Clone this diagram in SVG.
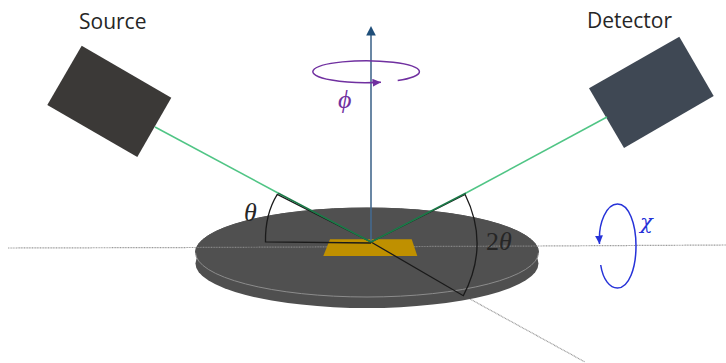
<svg xmlns="http://www.w3.org/2000/svg" width="726" height="363" viewBox="0 0 726 363">
<defs>
<style>
.label{font-family:"Open Sans","Noto Sans",sans-serif;font-size:21px;fill:#262626}
.math{font-family:"Liberation Serif","DejaVu Serif",serif;font-style:italic;font-size:26px}
.dot{fill:none;stroke:#9a9a9a;stroke-width:1.200;stroke-dasharray:1 0.6}
.beam{fill:none;stroke:#50c585;stroke-width:1.500}
.beamd{fill:none;stroke:#1b7a48;stroke-width:1.600}
.angle{fill:none;stroke:#1a1a1a;stroke-width:1.300}
</style>
<marker id="phiHead" markerUnits="userSpaceOnUse" markerWidth="10" markerHeight="10" refX="8.500" refY="4" orient="auto"><path d="M0,0L8.500,4L0,8Z" fill="#7030a0"/></marker>
<marker id="chiHead" markerUnits="userSpaceOnUse" markerWidth="10" markerHeight="10" refX="8.500" refY="4" orient="auto"><path d="M0,0L8.500,4L0,8Z" fill="#2632d8"/></marker>
</defs>
<rect width="726" height="363" fill="#fff"/>
<g id="axis-back">
<path class="dot" d="M8,248L195,247.500"/>
<path class="dot" d="M538,246L726,245"/>
<path class="dot" d="M470,299L585,362"/>
</g>
<g id="stage">
<ellipse cx="367" cy="263.500" rx="171.500" ry="44.500" fill="#4f4f4f"/>
<ellipse cx="367" cy="252.500" rx="171.500" ry="44.500" fill="#505050" stroke="#8c8c8c" stroke-width="1"/>
<path d="M195.500,252.500A171.500,44.500 0 0 1 538.500,252.500" fill="#505050" stroke="#505050" stroke-width="1"/>
<path class="dot" d="M195,247.500L538,246" stroke-opacity=".7"/>
</g>
<g id="sample"><polygon points="330,239.300 411.700,239.300 417.300,256 323.300,256" fill="#bf9000"/></g>
<g id="source"><polygon points="81.700,45.700 171.300,97.700 137.300,157 47.300,105" fill="#3b3937"/><text class="label" x="79" y="29">Source</text></g>
<g id="detector"><polygon points="679.300,36.700 713.700,96 624,148 589,88.300" fill="#3f4854"/><text class="label" x="587" y="28">Detector</text></g>
<g id="connectors">
<path class="angle" d="M371,243L265.500,241.800Q265,214 277.300,194.300L371,242"/>
<path class="angle" d="M371,242L465,194.300Q490,245 463.300,295.700L371,242"/>
<path d="M371,242L371,34" fill="none" stroke="#44698e" stroke-width="1.600"/>
<polygon points="371,26 375.800,35.500 366.200,35.500" fill="#1f4e79"/>
<path class="beam" d="M155,127L278,193"/>
<path class="beamd" d="M278,193L371,242"/>
<path class="beam" d="M607,117L466,193"/>
<path class="beamd" d="M466,193L371,242"/>
<path d="M397.700,80.600A53.300,11 0 1 0 381,82.300" fill="none" stroke="#7030a0" stroke-width="1.500" marker-end="url(#phiHead)"/>
<path d="M600.700,265C603,280 610,288 617.500,288C629,288 636,268 636,246C636,224 629,204 617.500,204C607,204 598,222 599.500,244" fill="none" stroke="#2632d8" stroke-width="1.500" marker-end="url(#chiHead)"/>
</g>
<g id="labels">
<text class="math" x="244" y="221" fill="#262626">θ</text>
<text class="math" x="486" y="250" fill="#262626"><tspan font-style="normal">2</tspan>θ</text>
<text class="math" x="338" y="108" fill="#7030a0">ϕ</text>
<text class="math" x="640" y="229" fill="#2632d8" style="font-family:'DejaVu Serif',serif;font-size:21px">χ</text>
</g>
</svg>
